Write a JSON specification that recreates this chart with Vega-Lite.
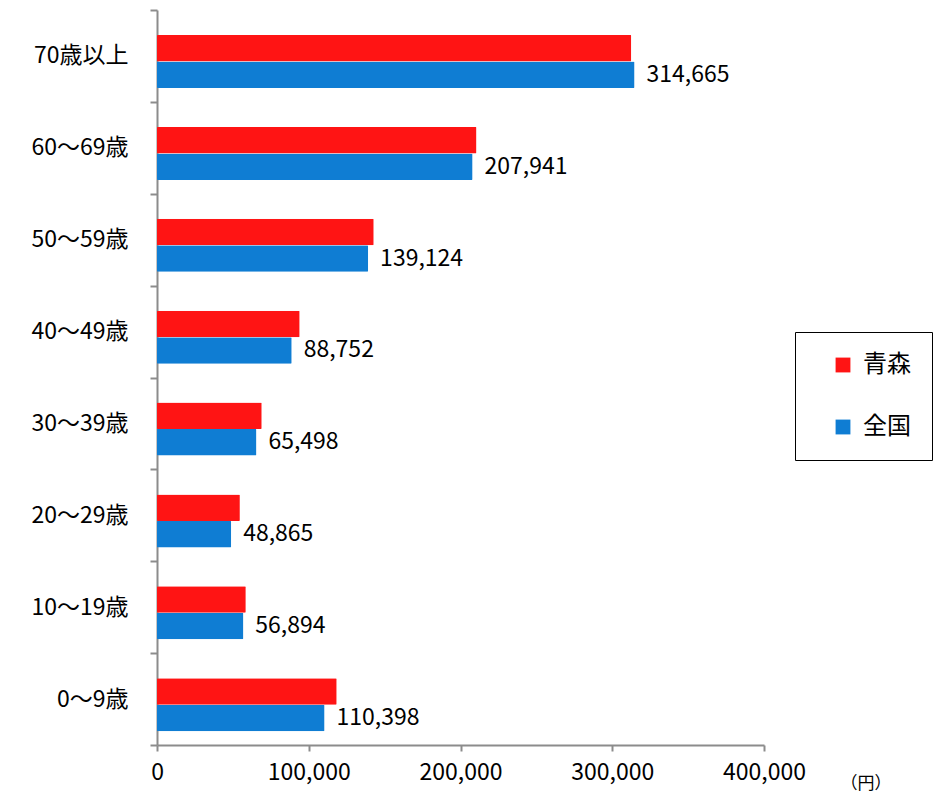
{
  "$schema": "https://vega.github.io/schema/vega-lite/v6.json",
  "width": 607,
  "height": 735,
  "autosize": {"type": "none"},
  "padding": {"left": 157, "top": 10, "right": 187, "bottom": 50},
  "background": "white",
  "config": {
    "font": "Noto Sans CJK JP",
    "view": {"stroke": null}
  },
  "data": {
    "values": [
      {"age": "70歳以上", "series": "青森", "value": 312500},
      {"age": "70歳以上", "series": "全国", "value": 314665},
      {"age": "60～69歳", "series": "青森", "value": 210500},
      {"age": "60～69歳", "series": "全国", "value": 207941},
      {"age": "50～59歳", "series": "青森", "value": 142800},
      {"age": "50～59歳", "series": "全国", "value": 139124},
      {"age": "40～49歳", "series": "青森", "value": 94000},
      {"age": "40～49歳", "series": "全国", "value": 88752},
      {"age": "30～39歳", "series": "青森", "value": 69000},
      {"age": "30～39歳", "series": "全国", "value": 65498},
      {"age": "20～29歳", "series": "青森", "value": 54600},
      {"age": "20～29歳", "series": "全国", "value": 48865},
      {"age": "10～19歳", "series": "青森", "value": 58500},
      {"age": "10～19歳", "series": "全国", "value": 56894},
      {"age": "0～9歳", "series": "青森", "value": 118400},
      {"age": "0～9歳", "series": "全国", "value": 110398}
    ]
  },
  "encoding": {
    "y": {
      "field": "age",
      "type": "nominal",
      "sort": ["70歳以上", "60～69歳", "50～59歳", "40～49歳", "30～39歳", "20～29歳", "10～19歳", "0～9歳"],
      "scale": {"paddingInner": 0, "paddingOuter": 0},
      "axis": {
        "title": null,
        "domainColor": "#8c8c8c",
        "domainWidth": 2,
        "tickColor": "#8c8c8c",
        "tickWidth": 2,
        "tickSize": 7,
        "tickBand": "extent",
        "labelFontSize": 23,
        "labelColor": "#000000",
        "labelPadding": 22
      }
    },
    "yOffset": {
      "field": "series",
      "type": "nominal",
      "sort": ["青森", "全国"],
      "scale": {"range": [25, 78], "paddingInner": 0, "paddingOuter": 0}
    },
    "x": {
      "field": "value",
      "type": "quantitative",
      "scale": {"domain": [0, 400000]},
      "axis": {
        "title": "（円）",
        "titleFontSize": 17,
        "titleFontWeight": "normal",
        "titleX": 683,
        "titleY": 38,
        "titleAlign": "left",
        "titleBaseline": "middle",
        "values": [0, 100000, 200000, 300000, 400000],
        "labelExpr": "format(datum.value, ',')",
        "labelFlush": false,
        "grid": false,
        "domainColor": "#8c8c8c",
        "domainWidth": 2,
        "tickColor": "#8c8c8c",
        "tickWidth": 2,
        "tickSize": 6,
        "labelFontSize": 23,
        "labelColor": "#000000",
        "labelPadding": 10
      }
    }
  },
  "layer": [
    {
      "mark": {"type": "bar", "cornerRadius": 1},
      "encoding": {
        "color": {
          "field": "series",
          "type": "nominal",
          "sort": ["青森", "全国"],
          "scale": {"domain": ["青森", "全国"], "range": ["#ff1414", "#0f7dd3"]},
          "legend": {
            "title": null,
            "orient": "none",
            "legendX": 638,
            "legendY": 322,
            "direction": "vertical",
            "symbolType": "square",
            "symbolSize": 220,
            "symbolStrokeWidth": 0,
            "labelFontSize": 24,
            "labelColor": "#000000",
            "labelOffset": 8,
            "rowPadding": 38,
            "padding": 21,
            "symbolOffset": 15,
            "strokeColor": "#000000",
            "fillColor": "#ffffff",
            "labelLimit": 200
          }
        }
      }
    },
    {
      "transform": [{"filter": "datum.series === '全国'"}],
      "mark": {"type": "text", "align": "left", "baseline": "middle", "dx": 12, "fontSize": 23, "color": "#000000"},
      "encoding": {
        "text": {"field": "value", "type": "quantitative", "format": ","}
      }
    }
  ]
}
